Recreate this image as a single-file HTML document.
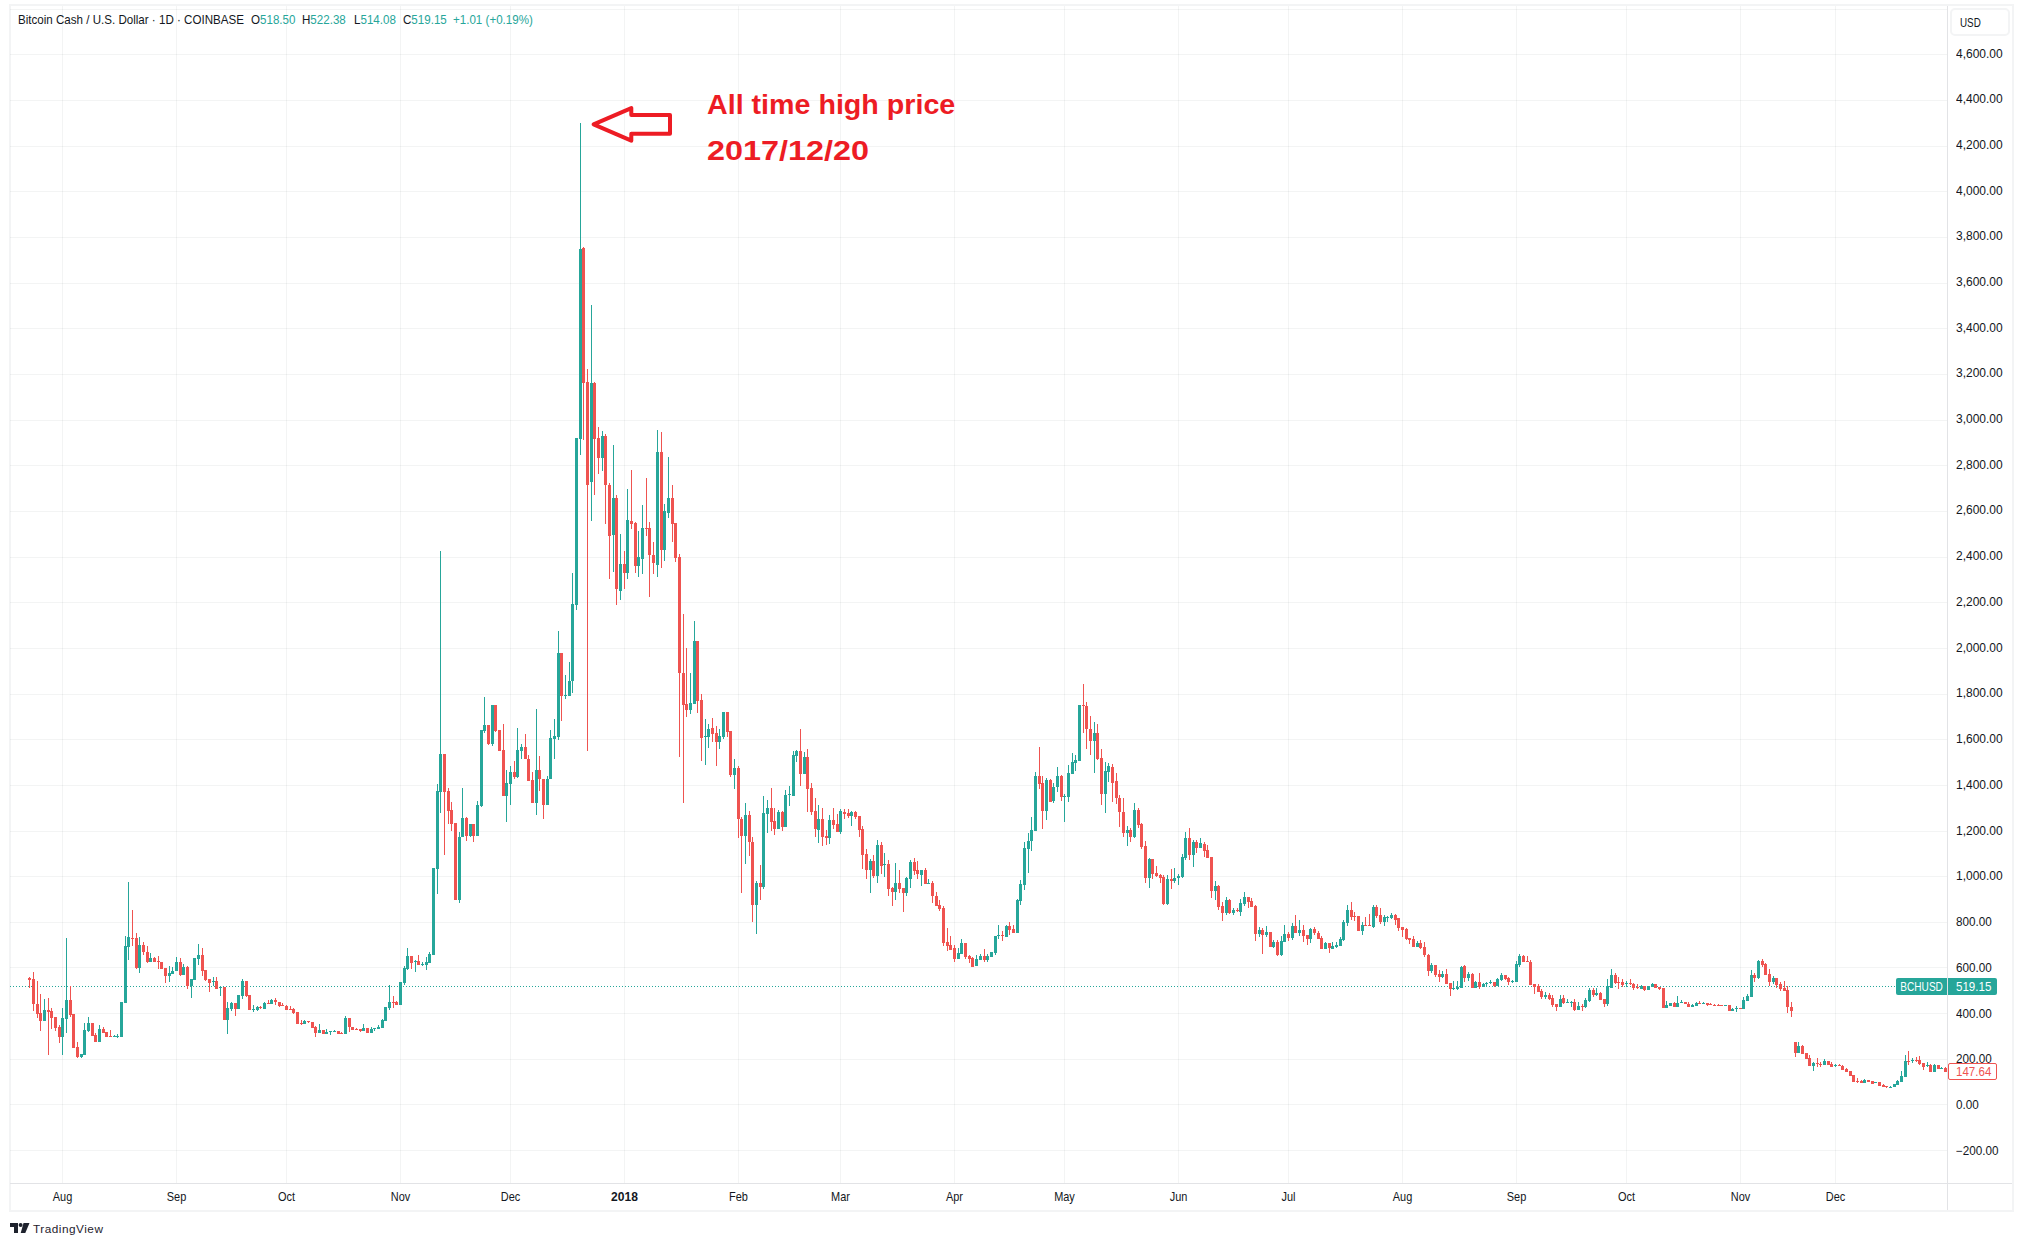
<!DOCTYPE html>
<html><head><meta charset="utf-8"><title>BCHUSD</title>
<style>
html,body{margin:0;padding:0;background:#fff;}
body{width:2023px;height:1246px;position:relative;overflow:hidden;font-family:"Liberation Sans",sans-serif;color:#131722;}
#frame{position:absolute;left:9px;top:4px;width:2001px;height:1204px;border:2px solid #f3f4f5;box-sizing:content-box;}
svg{position:absolute;left:0;top:0;}
.pl{position:absolute;left:1956px;transform-origin:0 0;transform:scaleX(0.988);font-size:11.85px;line-height:16px;height:16px;white-space:nowrap;}
.pl.c{transform:scaleX(1.012);}
.tl{position:absolute;top:1189px;width:61px;text-align:center;font-size:11.85px;line-height:16px;white-space:nowrap;transform:scaleX(0.925);}
.tl.b{font-weight:bold;transform:scaleX(1.02);}
#hdr span.h{position:absolute;top:11.6px;font-size:12.8px;line-height:16px;white-space:nowrap;transform-origin:0 0;transform:scaleX(0.905);}
#hdr .v{color:#26a69a;}
#usd{position:absolute;left:1950px;top:8px;width:60px;height:28px;border:2px solid #f3f4f5;border-radius:5px;box-sizing:border-box;}
#usd span{position:absolute;left:8.2px;top:4.6px;font-size:11.85px;line-height:16px;transform-origin:0 0;transform:scaleX(0.83);}
#ann{position:absolute;left:706.5px;top:0;color:#ed1c24;font-weight:bold;font-size:28px;line-height:32px;white-space:nowrap;}
#ann div{position:absolute;left:0;transform-origin:0 0;}
#sym{position:absolute;left:1896px;top:978px;width:51px;height:17px;background:#26a69a;color:#fff;border-radius:2px 0 0 2px;font-size:11.85px;line-height:19.6px;text-align:center;overflow:hidden;}
#last{position:absolute;left:1948px;top:978px;width:49px;height:17px;background:#26a69a;color:#fff;border-radius:0 2px 2px 0;font-size:11.85px;line-height:19.6px;box-sizing:border-box;padding-left:8px;overflow:hidden;}
#low{position:absolute;left:1948px;top:1063px;width:49px;height:17px;background:#fff;color:#ef5350;border:1px solid #ef5350;border-radius:2px;font-size:11.85px;line-height:17.6px;box-sizing:border-box;padding-left:7px;overflow:hidden;}
.n{display:inline-block;transform-origin:0 50%;transform:scaleX(0.975);}
#tv{position:absolute;left:33px;top:1220.7px;font-size:11.8px;line-height:16px;color:#1e222d;letter-spacing:0.5px;}
</style></head><body>
<div id="frame"></div>
<svg width="2023" height="1246" viewBox="0 0 2023 1246" shape-rendering="crispEdges">
<g fill="#1e2e2e" fill-opacity="0.055"><rect x="10" y="1150" width="1937" height="1"/><rect x="10" y="1104" width="1937" height="1"/><rect x="10" y="1059" width="1937" height="1"/><rect x="10" y="1013" width="1937" height="1"/><rect x="10" y="967" width="1937" height="1"/><rect x="10" y="922" width="1937" height="1"/><rect x="10" y="876" width="1937" height="1"/><rect x="10" y="831" width="1937" height="1"/><rect x="10" y="785" width="1937" height="1"/><rect x="10" y="739" width="1937" height="1"/><rect x="10" y="694" width="1937" height="1"/><rect x="10" y="648" width="1937" height="1"/><rect x="10" y="602" width="1937" height="1"/><rect x="10" y="557" width="1937" height="1"/><rect x="10" y="511" width="1937" height="1"/><rect x="10" y="465" width="1937" height="1"/><rect x="10" y="420" width="1937" height="1"/><rect x="10" y="374" width="1937" height="1"/><rect x="10" y="328" width="1937" height="1"/><rect x="10" y="283" width="1937" height="1"/><rect x="10" y="237" width="1937" height="1"/><rect x="10" y="191" width="1937" height="1"/><rect x="10" y="146" width="1937" height="1"/><rect x="10" y="100" width="1937" height="1"/><rect x="10" y="54" width="1937" height="1"/><rect x="10" y="9" width="1937" height="1"/><rect x="62" y="6" width="1" height="1177"/><rect x="176" y="6" width="1" height="1177"/><rect x="286" y="6" width="1" height="1177"/><rect x="400" y="6" width="1" height="1177"/><rect x="510" y="6" width="1" height="1177"/><rect x="624" y="6" width="1" height="1177"/><rect x="738" y="6" width="1" height="1177"/><rect x="840" y="6" width="1" height="1177"/><rect x="954" y="6" width="1" height="1177"/><rect x="1064" y="6" width="1" height="1177"/><rect x="1178" y="6" width="1" height="1177"/><rect x="1288" y="6" width="1" height="1177"/><rect x="1402" y="6" width="1" height="1177"/><rect x="1516" y="6" width="1" height="1177"/><rect x="1626" y="6" width="1" height="1177"/><rect x="1740" y="6" width="1" height="1177"/><rect x="1835" y="6" width="1" height="1177"/></g>
<rect x="10" y="1183" width="2002" height="1" fill="#e2e3e6"/>
<rect x="1947" y="6" width="1" height="1204" fill="#e2e3e6"/>
<line x1="10" y1="986.5" x2="1896" y2="986.5" stroke="#26a69a" stroke-width="1" stroke-dasharray="1 2"/>
<path fill="#26a69a" d="M44 999h1v22h-1zM43 1010h3v11h-3zM62 1008h1v47h-1zM61 1018h3v19h-3zM66 938h1v95h-1zM65 1000h3v19h-3zM81 1054h1v4h-1zM80 1054h3v3h-3zM84 1023h1v32h-1zM83 1030h3v25h-3zM88 1017h1v15h-1zM87 1023h3v8h-3zM99 1025h1v17h-1zM98 1029h3v13h-3zM114 1035h1v2h-1zM113 1036h3v1h-3zM117 1034h1v4h-1zM116 1036h3v1h-3zM121 1002h1v35h-1zM120 1002h3v35h-3zM125 936h1v67h-1zM124 946h3v57h-3zM128 882h1v78h-1zM127 937h3v10h-3zM139 937h1v36h-1zM138 945h3v23h-3zM150 953h1v9h-1zM149 958h3v4h-3zM169 966h1v16h-1zM168 973h3v3h-3zM172 967h1v7h-1zM171 971h3v3h-3zM176 957h1v14h-1zM175 962h3v9h-3zM183 964h1v11h-1zM182 967h3v8h-3zM191 979h1v19h-1zM190 979h3v7h-3zM194 958h1v22h-1zM193 958h3v22h-3zM198 944h1v21h-1zM197 955h3v4h-3zM213 977h1v9h-1zM212 981h3v1h-3zM220 986h1v10h-1zM219 987h3v1h-3zM227 1002h1v32h-1zM226 1008h3v12h-3zM231 1002h1v9h-1zM230 1003h3v6h-3zM238 995h1v14h-1zM237 995h3v14h-3zM242 979h1v20h-1zM241 981h3v15h-3zM253 1005h1v7h-1zM252 1009h3v1h-3zM257 1006h1v5h-1zM256 1007h3v3h-3zM264 1002h1v7h-1zM263 1003h3v6h-3zM271 999h1v5h-1zM270 1000h3v4h-3zM304 1020h1v4h-1zM303 1021h3v3h-3zM319 1024h1v9h-1zM318 1030h3v3h-3zM326 1029h1v5h-1zM325 1032h3v2h-3zM330 1031h1v4h-1zM329 1031h3v1h-3zM334 1030h1v2h-1zM333 1031h3v1h-3zM345 1016h1v18h-1zM344 1018h3v16h-3zM363 1024h1v7h-1zM362 1028h3v3h-3zM371 1027h1v6h-1zM370 1029h3v4h-3zM374 1028h1v3h-1zM373 1028h3v1h-3zM378 1025h1v4h-1zM377 1027h3v2h-3zM382 1019h1v9h-1zM381 1020h3v8h-3zM385 1007h1v14h-1zM384 1007h3v14h-3zM389 985h1v25h-1zM388 1002h3v6h-3zM400 982h1v23h-1zM399 982h3v23h-3zM404 966h1v19h-1zM403 968h3v15h-3zM407 948h1v22h-1zM406 956h3v13h-3zM415 960h1v12h-1zM414 961h3v1h-3zM422 962h1v4h-1zM421 964h3v1h-3zM426 957h1v13h-1zM425 962h3v3h-3zM429 952h1v11h-1zM428 954h3v9h-3zM433 868h1v87h-1zM432 868h3v87h-3zM437 784h1v110h-1zM436 791h3v78h-3zM440 551h1v262h-1zM439 754h3v38h-3zM459 832h1v71h-1zM458 837h3v63h-3zM462 788h1v49h-1zM461 818h3v19h-3zM470 824h1v13h-1zM469 824h3v12h-3zM477 801h1v35h-1zM476 805h3v31h-3zM481 730h1v77h-1zM480 730h3v76h-3zM484 697h1v36h-1zM483 725h3v6h-3zM492 705h1v41h-1zM491 705h3v39h-3zM506 770h1v52h-1zM505 783h3v13h-3zM510 766h1v39h-1zM509 772h3v12h-3zM517 728h1v50h-1zM516 750h3v27h-3zM521 744h1v15h-1zM520 747h3v4h-3zM536 709h1v106h-1zM535 770h3v33h-3zM547 776h1v29h-1zM546 779h3v26h-3zM550 730h1v49h-1zM549 738h3v41h-3zM554 719h1v40h-1zM553 736h3v3h-3zM558 631h1v109h-1zM557 653h3v84h-3zM565 675h1v24h-1zM564 695h3v1h-3zM569 662h1v34h-1zM568 681h3v15h-3zM572 573h1v120h-1zM571 604h3v77h-3zM576 438h1v172h-1zM575 438h3v167h-3zM580 123h1v332h-1zM579 249h3v190h-3zM591 305h1v216h-1zM590 383h3v99h-3zM602 431h1v40h-1zM601 436h3v22h-3zM613 445h1v127h-1zM612 498h3v37h-3zM620 534h1v66h-1zM619 564h3v27h-3zM627 489h1v90h-1zM626 520h3v53h-3zM638 531h1v46h-1zM637 557h3v9h-3zM642 505h1v69h-1zM641 528h3v31h-3zM657 430h1v147h-1zM656 452h3v113h-3zM664 504h1v57h-1zM663 511h3v39h-3zM668 457h1v61h-1zM667 498h3v15h-3zM690 673h1v41h-1zM689 703h3v7h-3zM694 621h1v83h-1zM693 641h3v63h-3zM705 719h1v46h-1zM704 736h3v1h-3zM708 724h1v24h-1zM707 729h3v8h-3zM719 729h1v20h-1zM718 736h3v6h-3zM723 712h1v27h-1zM722 712h3v25h-3zM734 759h1v30h-1zM733 768h3v7h-3zM745 803h1v61h-1zM744 815h3v21h-3zM756 881h1v53h-1zM755 883h3v22h-3zM763 796h1v93h-1zM762 813h3v74h-3zM767 800h1v33h-1zM766 808h3v6h-3zM778 810h1v19h-1zM777 812h3v17h-3zM785 790h1v37h-1zM784 795h3v32h-3zM789 786h1v20h-1zM788 794h3v1h-3zM793 751h1v45h-1zM792 755h3v41h-3zM796 750h1v12h-1zM795 751h3v5h-3zM804 752h1v22h-1zM803 757h3v17h-3zM818 805h1v38h-1zM817 819h3v11h-3zM829 815h1v29h-1zM828 820h3v18h-3zM840 809h1v25h-1zM839 811h3v21h-3zM851 811h1v15h-1zM850 812h3v4h-3zM870 859h1v34h-1zM869 861h3v9h-3zM877 840h1v43h-1zM876 845h3v31h-3zM884 853h1v24h-1zM883 864h3v1h-3zM895 863h1v37h-1zM894 883h3v9h-3zM906 877h1v19h-1zM905 878h3v15h-3zM910 860h1v28h-1zM909 862h3v17h-3zM921 870h1v16h-1zM920 870h3v5h-3zM928 879h1v5h-1zM927 883h3v1h-3zM958 948h1v11h-1zM957 953h3v6h-3zM961 939h1v15h-1zM960 943h3v11h-3zM976 955h1v11h-1zM975 959h3v7h-3zM980 954h1v6h-1zM979 956h3v4h-3zM987 954h1v8h-1zM986 956h3v4h-3zM991 952h1v5h-1zM990 952h3v5h-3zM995 936h1v19h-1zM994 936h3v17h-3zM998 925h1v14h-1zM997 935h3v1h-3zM1006 925h1v12h-1zM1005 926h3v11h-3zM1017 899h1v34h-1zM1016 900h3v33h-3zM1020 880h1v25h-1zM1019 884h3v17h-3zM1024 842h1v48h-1zM1023 848h3v37h-3zM1028 833h1v40h-1zM1027 841h3v8h-3zM1031 817h1v34h-1zM1030 830h3v11h-3zM1035 772h1v59h-1zM1034 776h3v55h-3zM1046 778h1v42h-1zM1045 780h3v31h-3zM1053 783h1v20h-1zM1052 787h3v14h-3zM1057 767h1v25h-1zM1056 776h3v11h-3zM1064 794h1v28h-1zM1063 796h3v1h-3zM1068 765h1v37h-1zM1067 773h3v24h-3zM1072 753h1v21h-1zM1071 762h3v12h-3zM1075 755h1v16h-1zM1074 760h3v3h-3zM1079 705h1v56h-1zM1078 705h3v56h-3zM1094 722h1v51h-1zM1093 733h3v8h-3zM1105 762h1v51h-1zM1104 771h3v23h-3zM1108 763h1v19h-1zM1107 766h3v6h-3zM1127 826h1v20h-1zM1126 830h3v3h-3zM1134 803h1v35h-1zM1133 810h3v27h-3zM1149 858h1v30h-1zM1148 859h3v19h-3zM1167 875h1v30h-1zM1166 879h3v25h-3zM1174 868h1v15h-1zM1173 878h3v3h-3zM1178 874h1v11h-1zM1177 876h3v2h-3zM1182 854h1v24h-1zM1181 857h3v20h-3zM1185 832h1v28h-1zM1184 838h3v20h-3zM1193 840h1v27h-1zM1192 842h3v13h-3zM1200 838h1v10h-1zM1199 843h3v5h-3zM1215 881h1v19h-1zM1214 886h3v5h-3zM1226 897h1v18h-1zM1225 900h3v13h-3zM1233 908h1v7h-1zM1232 910h3v3h-3zM1240 899h1v17h-1zM1239 903h3v9h-3zM1244 892h1v14h-1zM1243 897h3v7h-3zM1259 927h1v10h-1zM1258 930h3v4h-3zM1266 926h1v11h-1zM1265 932h3v3h-3zM1273 940h1v8h-1zM1272 942h3v5h-3zM1281 936h1v20h-1zM1280 941h3v14h-3zM1284 925h1v17h-1zM1283 934h3v8h-3zM1292 923h1v17h-1zM1291 926h3v12h-3zM1299 920h1v16h-1zM1298 930h3v3h-3zM1310 928h1v15h-1zM1309 929h3v10h-3zM1325 942h1v7h-1zM1324 943h3v6h-3zM1332 942h1v7h-1zM1331 946h3v3h-3zM1336 942h1v6h-1zM1335 945h3v2h-3zM1340 937h1v9h-1zM1339 939h3v7h-3zM1343 920h1v21h-1zM1342 922h3v18h-3zM1347 905h1v21h-1zM1346 910h3v13h-3zM1362 922h1v13h-1zM1361 925h3v6h-3zM1373 905h1v23h-1zM1372 907h3v20h-3zM1384 915h1v11h-1zM1383 917h3v5h-3zM1387 916h1v6h-1zM1386 917h3v1h-3zM1391 913h1v6h-1zM1390 915h3v3h-3zM1417 941h1v6h-1zM1416 943h3v4h-3zM1431 963h1v10h-1zM1430 965h3v6h-3zM1442 971h1v7h-1zM1441 974h3v3h-3zM1453 981h1v9h-1zM1452 988h3v1h-3zM1457 981h1v9h-1zM1456 987h3v2h-3zM1461 966h1v22h-1zM1460 967h3v21h-3zM1468 972h1v9h-1zM1467 974h3v4h-3zM1475 981h1v7h-1zM1474 982h3v6h-3zM1483 983h1v4h-1zM1482 984h3v3h-3zM1486 982h1v5h-1zM1485 983h3v1h-3zM1490 980h1v4h-1zM1489 982h3v1h-3zM1497 978h1v8h-1zM1496 979h3v7h-3zM1501 973h1v8h-1zM1500 975h3v5h-3zM1512 980h1v3h-1zM1511 981h3v1h-3zM1516 961h1v21h-1zM1515 964h3v18h-3zM1519 954h1v13h-1zM1518 956h3v9h-3zM1545 992h1v7h-1zM1544 995h3v2h-3zM1560 995h1v12h-1zM1559 999h3v8h-3zM1567 999h1v4h-1zM1566 1002h3v1h-3zM1571 1001h1v6h-1zM1570 1002h3v1h-3zM1578 1002h1v8h-1zM1577 1006h3v4h-3zM1585 998h1v10h-1zM1584 1000h3v7h-3zM1589 988h1v14h-1zM1588 990h3v11h-3zM1596 988h1v8h-1zM1595 993h3v2h-3zM1607 979h1v27h-1zM1606 986h3v18h-3zM1611 969h1v19h-1zM1610 975h3v13h-3zM1626 981h1v6h-1zM1625 983h3v1h-3zM1641 985h1v4h-1zM1640 986h3v3h-3zM1648 986h1v4h-1zM1647 986h3v4h-3zM1652 983h1v4h-1zM1651 984h3v3h-3zM1666 1001h1v7h-1zM1665 1005h3v3h-3zM1670 1003h1v3h-1zM1669 1003h3v3h-3zM1677 996h1v11h-1zM1676 1003h3v4h-3zM1681 1000h1v3h-1zM1680 1002h3v1h-3zM1692 1004h1v3h-1zM1691 1005h3v2h-3zM1696 1002h1v4h-1zM1695 1003h3v3h-3zM1703 1002h1v2h-1zM1702 1003h3v1h-3zM1725 1005h1v1h-1zM1724 1005h3v1h-3zM1732 1008h1v3h-1zM1731 1009h3v2h-3zM1736 1006h1v6h-1zM1735 1008h3v1h-3zM1743 997h1v12h-1zM1742 1000h3v9h-3zM1747 994h1v7h-1zM1746 996h3v5h-3zM1751 970h1v27h-1zM1750 975h3v22h-3zM1758 960h1v19h-1zM1757 961h3v17h-3zM1773 976h1v8h-1zM1772 978h3v4h-3zM1798 1042h1v11h-1zM1797 1046h3v7h-3zM1813 1062h1v9h-1zM1812 1063h3v3h-3zM1824 1059h1v6h-1zM1823 1061h3v4h-3zM1835 1064h1v3h-1zM1834 1065h3v1h-3zM1864 1079h1v4h-1zM1863 1080h3v3h-3zM1875 1082h1v1h-1zM1874 1082h3v1h-3zM1890 1086h1v2h-1zM1889 1087h3v1h-3zM1894 1084h1v3h-1zM1893 1084h3v3h-3zM1897 1080h1v5h-1zM1896 1081h3v4h-3zM1901 1071h1v11h-1zM1900 1076h3v6h-3zM1905 1055h1v22h-1zM1904 1061h3v16h-3zM1912 1058h1v5h-1zM1911 1060h3v1h-3zM1927 1062h1v5h-1zM1926 1065h3v1h-3zM1934 1064h1v8h-1zM1933 1065h3v7h-3zM1941 1067h1v2h-1zM1940 1068h3v1h-3z"/>
<path fill="#ef5350" d="M29 977h1v11h-1zM28 978h3v2h-3zM33 972h1v39h-1zM32 979h3v25h-3zM37 981h1v37h-1zM36 1004h3v10h-3zM40 994h1v37h-1zM39 1013h3v8h-3zM48 998h1v57h-1zM47 1010h3v2h-3zM51 1008h1v21h-1zM50 1011h3v7h-3zM55 1017h1v14h-1zM54 1017h3v11h-3zM59 1025h1v18h-1zM58 1027h3v10h-3zM70 986h1v31h-1zM69 1000h3v15h-3zM73 1014h1v34h-1zM72 1014h3v34h-3zM77 1042h1v16h-1zM76 1047h3v10h-3zM92 1023h1v13h-1zM91 1023h3v13h-3zM95 1033h1v9h-1zM94 1035h3v7h-3zM103 1027h1v6h-1zM102 1029h3v4h-3zM106 1032h1v5h-1zM105 1032h3v5h-3zM110 1030h1v7h-1zM109 1036h3v1h-3zM132 910h1v36h-1zM131 938h3v1h-3zM136 933h1v36h-1zM135 938h3v30h-3zM143 942h1v13h-1zM142 945h3v7h-3zM147 946h1v17h-1zM146 952h3v10h-3zM154 957h1v5h-1zM153 958h3v4h-3zM158 956h1v13h-1zM157 961h3v1h-3zM161 962h1v7h-1zM160 962h3v7h-3zM165 968h1v15h-1zM164 968h3v8h-3zM180 958h1v18h-1zM179 962h3v13h-3zM187 966h1v23h-1zM186 967h3v19h-3zM202 948h1v28h-1zM201 955h3v16h-3zM205 970h1v11h-1zM204 970h3v10h-3zM209 979h1v13h-1zM208 979h3v4h-3zM216 977h1v12h-1zM215 981h3v8h-3zM224 987h1v33h-1zM223 987h3v33h-3zM235 1003h1v13h-1zM234 1003h3v6h-3zM246 981h1v16h-1zM245 981h3v15h-3zM249 995h1v15h-1zM248 995h3v15h-3zM260 1006h1v3h-1zM259 1007h3v1h-3zM268 1000h1v4h-1zM267 1003h3v1h-3zM275 998h1v7h-1zM274 1000h3v2h-3zM279 1002h1v5h-1zM278 1002h3v4h-3zM282 1003h1v3h-1zM281 1005h3v1h-3zM286 1005h1v5h-1zM285 1006h3v4h-3zM290 1006h1v4h-1zM289 1009h3v1h-3zM293 1008h1v6h-1zM292 1009h3v4h-3zM297 1012h1v12h-1zM296 1012h3v12h-3zM301 1020h1v5h-1zM300 1023h3v1h-3zM308 1021h1v2h-1zM307 1021h3v1h-3zM312 1022h1v6h-1zM311 1022h3v6h-3zM315 1026h1v11h-1zM314 1027h3v6h-3zM323 1030h1v4h-1zM322 1030h3v4h-3zM338 1031h1v3h-1zM337 1031h3v3h-3zM341 1032h1v2h-1zM340 1033h3v1h-3zM349 1018h1v14h-1zM348 1018h3v9h-3zM352 1027h1v3h-1zM351 1027h3v3h-3zM356 1028h1v2h-1zM355 1029h3v1h-3zM360 1029h1v3h-1zM359 1029h3v2h-3zM367 1028h1v5h-1zM366 1028h3v5h-3zM393 996h1v12h-1zM392 1002h3v1h-3zM396 1001h1v4h-1zM395 1002h3v3h-3zM411 956h1v13h-1zM410 956h3v7h-3zM418 955h1v10h-1zM417 961h3v4h-3zM444 754h1v101h-1zM443 754h3v38h-3zM448 788h1v36h-1zM447 791h3v20h-3zM451 802h1v29h-1zM450 810h3v14h-3zM455 823h1v77h-1zM454 823h3v77h-3zM466 817h1v24h-1zM465 818h3v18h-3zM473 824h1v18h-1zM472 824h3v12h-3zM488 725h1v20h-1zM487 725h3v19h-3zM495 705h1v27h-1zM494 705h3v26h-3zM499 730h1v21h-1zM498 730h3v21h-3zM503 724h1v72h-1zM502 750h3v46h-3zM514 761h1v18h-1zM513 772h3v5h-3zM525 734h1v25h-1zM524 747h3v12h-3zM528 755h1v26h-1zM527 759h3v22h-3zM532 772h1v31h-1zM531 780h3v23h-3zM539 756h1v35h-1zM538 770h3v9h-3zM543 779h1v40h-1zM542 779h3v26h-3zM561 653h1v68h-1zM560 653h3v43h-3zM583 247h1v193h-1zM582 248h3v135h-3zM587 369h1v382h-1zM586 382h3v103h-3zM594 382h1v113h-1zM593 383h3v56h-3zM598 427h1v47h-1zM597 438h3v20h-3zM605 434h1v90h-1zM604 436h3v49h-3zM609 483h1v96h-1zM608 485h3v51h-3zM616 495h1v110h-1zM615 498h3v91h-3zM624 551h1v38h-1zM623 564h3v9h-3zM631 470h1v59h-1zM630 521h3v3h-3zM635 522h1v51h-1zM634 523h3v43h-3zM646 478h1v58h-1zM645 528h3v1h-3zM649 522h1v75h-1zM648 528h3v27h-3zM653 542h1v32h-1zM652 555h3v8h-3zM661 432h1v136h-1zM660 452h3v98h-3zM672 485h1v57h-1zM671 498h3v26h-3zM675 523h1v39h-1zM674 523h3v35h-3zM679 554h1v203h-1zM678 557h3v116h-3zM683 614h1v189h-1zM682 673h3v32h-3zM686 648h1v69h-1zM685 704h3v6h-3zM697 641h1v72h-1zM696 641h3v60h-3zM701 694h1v67h-1zM700 700h3v38h-3zM712 718h1v24h-1zM711 728h3v6h-3zM716 726h1v40h-1zM715 733h3v9h-3zM727 712h1v25h-1zM726 712h3v20h-3zM730 731h1v46h-1zM729 731h3v44h-3zM738 766h1v72h-1zM737 768h3v51h-3zM741 817h1v76h-1zM740 819h3v17h-3zM749 811h1v45h-1zM748 815h3v27h-3zM752 837h1v85h-1zM751 842h3v63h-3zM760 865h1v35h-1zM759 883h3v4h-3zM771 788h1v43h-1zM770 808h3v14h-3zM774 808h1v27h-1zM773 821h3v8h-3zM782 811h1v20h-1zM781 812h3v15h-3zM800 729h1v57h-1zM799 751h3v23h-3zM807 749h1v63h-1zM806 757h3v32h-3zM811 783h1v32h-1zM810 788h3v24h-3zM815 798h1v39h-1zM814 811h3v18h-3zM822 808h1v38h-1zM821 819h3v18h-3zM826 830h1v15h-1zM825 836h3v2h-3zM833 808h1v21h-1zM832 820h3v5h-3zM837 814h1v18h-1zM836 824h3v8h-3zM844 809h1v10h-1zM843 812h3v2h-3zM848 809h1v9h-1zM847 813h3v3h-3zM855 811h1v8h-1zM854 812h3v5h-3zM859 816h1v21h-1zM858 816h3v14h-3zM862 826h1v43h-1zM861 829h3v26h-3zM866 849h1v30h-1zM865 854h3v16h-3zM873 855h1v23h-1zM872 861h3v15h-3zM881 842h1v32h-1zM880 845h3v21h-3zM888 860h1v36h-1zM887 864h3v25h-3zM892 887h1v19h-1zM891 888h3v4h-3zM899 870h1v23h-1zM898 883h3v6h-3zM903 888h1v24h-1zM902 888h3v5h-3zM914 858h1v17h-1zM913 862h3v9h-3zM917 861h1v18h-1zM916 870h3v4h-3zM925 868h1v16h-1zM924 870h3v14h-3zM932 881h1v22h-1zM931 883h3v13h-3zM936 892h1v14h-1zM935 896h3v10h-3zM939 900h1v11h-1zM938 905h3v4h-3zM943 906h1v40h-1zM942 908h3v35h-3zM947 928h1v23h-1zM946 942h3v4h-3zM950 936h1v14h-1zM949 945h3v5h-3zM954 945h1v17h-1zM953 948h3v11h-3zM965 943h1v16h-1zM964 943h3v14h-3zM969 955h1v8h-1zM968 956h3v3h-3zM972 957h1v10h-1zM971 958h3v9h-3zM984 949h1v13h-1zM983 956h3v4h-3zM1002 931h1v10h-1zM1001 935h3v1h-3zM1009 922h1v13h-1zM1008 926h3v4h-3zM1013 925h1v8h-1zM1012 929h3v4h-3zM1039 747h1v42h-1zM1038 776h3v8h-3zM1042 776h1v53h-1zM1041 783h3v28h-3zM1050 779h1v23h-1zM1049 780h3v22h-3zM1061 775h1v26h-1zM1060 776h3v21h-3zM1083 684h1v49h-1zM1082 705h3v1h-3zM1086 702h1v47h-1zM1085 706h3v23h-3zM1090 716h1v39h-1zM1089 729h3v12h-3zM1097 724h1v36h-1zM1096 733h3v26h-3zM1101 749h1v56h-1zM1100 758h3v36h-3zM1112 764h1v38h-1zM1111 767h3v16h-3zM1116 773h1v31h-1zM1115 781h3v17h-3zM1119 795h1v32h-1zM1118 798h3v14h-3zM1123 798h1v39h-1zM1122 812h3v21h-3zM1130 828h1v14h-1zM1129 830h3v7h-3zM1138 808h1v20h-1zM1137 810h3v15h-3zM1141 823h1v26h-1zM1140 824h3v23h-3zM1145 841h1v42h-1zM1144 846h3v32h-3zM1152 859h1v20h-1zM1151 859h3v15h-3zM1156 866h1v11h-1zM1155 873h3v3h-3zM1160 874h1v9h-1zM1159 875h3v3h-3zM1163 875h1v30h-1zM1162 877h3v27h-3zM1171 869h1v20h-1zM1170 879h3v2h-3zM1189 828h1v32h-1zM1188 838h3v17h-3zM1196 840h1v13h-1zM1195 842h3v6h-3zM1204 842h1v15h-1zM1203 844h3v7h-3zM1207 845h1v13h-1zM1206 850h3v8h-3zM1211 857h1v41h-1zM1210 857h3v34h-3zM1218 885h1v25h-1zM1217 886h3v21h-3zM1222 902h1v19h-1zM1221 906h3v7h-3zM1229 899h1v15h-1zM1228 900h3v13h-3zM1237 908h1v4h-1zM1236 910h3v1h-3zM1248 897h1v11h-1zM1247 897h3v5h-3zM1251 898h1v9h-1zM1250 901h3v6h-3zM1255 905h1v36h-1zM1254 906h3v28h-3zM1262 928h1v26h-1zM1261 930h3v5h-3zM1270 932h1v15h-1zM1269 932h3v15h-3zM1277 940h1v16h-1zM1276 942h3v13h-3zM1288 932h1v9h-1zM1287 934h3v4h-3zM1295 915h1v18h-1zM1294 926h3v7h-3zM1303 925h1v17h-1zM1302 930h3v6h-3zM1307 935h1v10h-1zM1306 935h3v4h-3zM1314 927h1v8h-1zM1313 929h3v4h-3zM1318 931h1v8h-1zM1317 933h3v6h-3zM1321 936h1v13h-1zM1320 938h3v11h-3zM1329 943h1v10h-1zM1328 943h3v5h-3zM1351 902h1v18h-1zM1350 910h3v7h-3zM1354 912h1v9h-1zM1353 916h3v1h-3zM1358 916h1v15h-1zM1357 916h3v15h-3zM1365 917h1v9h-1zM1364 925h3v1h-3zM1369 914h1v12h-1zM1368 925h3v1h-3zM1376 905h1v13h-1zM1375 907h3v9h-3zM1380 908h1v16h-1zM1379 915h3v7h-3zM1395 914h1v11h-1zM1394 915h3v5h-3zM1398 918h1v13h-1zM1397 918h3v10h-3zM1402 927h1v10h-1zM1401 927h3v3h-3zM1406 928h1v12h-1zM1405 929h3v10h-3zM1409 938h1v6h-1zM1408 938h3v2h-3zM1413 936h1v11h-1zM1412 939h3v8h-3zM1420 940h1v9h-1zM1419 943h3v5h-3zM1424 942h1v15h-1zM1423 947h3v8h-3zM1428 954h1v22h-1zM1427 955h3v16h-3zM1435 965h1v12h-1zM1434 965h3v10h-3zM1439 970h1v12h-1zM1438 974h3v3h-3zM1446 969h1v15h-1zM1445 974h3v10h-3zM1450 983h1v13h-1zM1449 983h3v6h-3zM1464 965h1v17h-1zM1463 966h3v12h-3zM1472 973h1v15h-1zM1471 974h3v14h-3zM1479 973h1v16h-1zM1478 982h3v5h-3zM1494 982h1v5h-1zM1493 982h3v4h-3zM1505 975h1v5h-1zM1504 975h3v4h-3zM1508 977h1v8h-1zM1507 978h3v4h-3zM1523 955h1v7h-1zM1522 956h3v6h-3zM1527 956h1v6h-1zM1526 961h3v1h-3zM1530 960h1v25h-1zM1529 962h3v23h-3zM1534 984h1v10h-1zM1533 984h3v3h-3zM1538 984h1v8h-1zM1537 986h3v6h-3zM1541 989h1v10h-1zM1540 991h3v6h-3zM1549 993h1v7h-1zM1548 995h3v4h-3zM1552 995h1v12h-1zM1551 998h3v7h-3zM1556 1004h1v7h-1zM1555 1004h3v3h-3zM1563 995h1v9h-1zM1562 998h3v5h-3zM1574 999h1v12h-1zM1573 1002h3v8h-3zM1582 1004h1v7h-1zM1581 1006h3v1h-3zM1593 988h1v9h-1zM1592 990h3v5h-3zM1600 992h1v8h-1zM1599 993h3v7h-3zM1604 999h1v8h-1zM1603 999h3v5h-3zM1615 973h1v11h-1zM1614 975h3v8h-3zM1618 977h1v12h-1zM1617 982h3v1h-3zM1622 979h1v8h-1zM1621 982h3v3h-3zM1630 979h1v6h-1zM1629 983h3v1h-3zM1633 983h1v7h-1zM1632 984h3v4h-3zM1637 984h1v5h-1zM1636 987h3v1h-3zM1644 986h1v5h-1zM1643 986h3v4h-3zM1655 984h1v4h-1zM1654 984h3v4h-3zM1659 987h1v3h-1zM1658 987h3v2h-3zM1663 988h1v20h-1zM1662 988h3v20h-3zM1674 1002h1v5h-1zM1673 1003h3v4h-3zM1685 1002h1v2h-1zM1684 1002h3v2h-3zM1688 1002h1v5h-1zM1687 1004h3v3h-3zM1699 1001h1v3h-1zM1698 1003h3v1h-3zM1707 1003h1v3h-1zM1706 1003h3v2h-3zM1710 1003h1v2h-1zM1709 1004h3v1h-3zM1714 1004h1v2h-1zM1713 1005h3v1h-3zM1718 1004h1v2h-1zM1717 1005h3v1h-3zM1721 1005h1v1h-1zM1720 1005h3v1h-3zM1729 1005h1v6h-1zM1728 1005h3v6h-3zM1740 1008h1v1h-1zM1739 1008h3v1h-3zM1754 973h1v9h-1zM1753 975h3v3h-3zM1762 959h1v8h-1zM1761 961h3v4h-3zM1765 963h1v12h-1zM1764 964h3v11h-3zM1769 969h1v17h-1zM1768 974h3v8h-3zM1776 978h1v10h-1zM1775 978h3v7h-3zM1780 982h1v9h-1zM1779 984h3v5h-3zM1784 981h1v10h-1zM1783 988h3v3h-3zM1787 986h1v27h-1zM1786 990h3v17h-3zM1791 1002h1v15h-1zM1790 1007h3v4h-3zM1795 1042h1v15h-1zM1794 1042h3v11h-3zM1802 1045h1v9h-1zM1801 1046h3v8h-3zM1806 1053h1v6h-1zM1805 1053h3v6h-3zM1809 1055h1v11h-1zM1808 1058h3v8h-3zM1817 1058h1v9h-1zM1816 1063h3v1h-3zM1820 1062h1v5h-1zM1819 1064h3v1h-3zM1828 1061h1v4h-1zM1827 1061h3v4h-3zM1831 1062h1v5h-1zM1830 1064h3v3h-3zM1839 1064h1v2h-1zM1838 1065h3v1h-3zM1842 1065h1v5h-1zM1841 1066h3v4h-3zM1846 1068h1v4h-1zM1845 1069h3v3h-3zM1850 1071h1v5h-1zM1849 1071h3v5h-3zM1853 1075h1v7h-1zM1852 1075h3v7h-3zM1857 1078h1v5h-1zM1856 1081h3v1h-3zM1861 1080h1v3h-1zM1860 1081h3v2h-3zM1868 1080h1v2h-1zM1867 1080h3v2h-3zM1872 1081h1v3h-1zM1871 1081h3v3h-3zM1879 1082h1v4h-1zM1878 1082h3v4h-3zM1883 1084h1v3h-1zM1882 1085h3v2h-3zM1886 1086h1v2h-1zM1885 1086h3v1h-3zM1908 1051h1v14h-1zM1907 1061h3v1h-3zM1916 1057h1v5h-1zM1915 1060h3v1h-3zM1919 1056h1v9h-1zM1918 1060h3v4h-3zM1923 1063h1v7h-1zM1922 1063h3v4h-3zM1930 1064h1v8h-1zM1929 1065h3v7h-3zM1938 1065h1v4h-1zM1937 1065h3v4h-3zM1945 1067h1v5h-1zM1944 1068h3v4h-3z"/>
</svg>
<svg width="2023" height="1246" viewBox="0 0 2023 1246">
<path d="M593.6 124.4 L631.3 108.1 L631.3 114.9 L670 114.9 L670 133.7 L631.3 133.7 L631.3 140.7 Z" fill="none" stroke="#ed1c24" stroke-width="4" stroke-linejoin="round"/>
<g fill="#1e222d" transform="translate(10,1223)"><path d="M0 0h8v10h-4v-6h-4z"/><circle cx="10.6" cy="2" r="2"/><path d="M13.5 0h6l-4.2 10h-4.6z"/></g>
</svg>
<div id="hdr"><span class="h" style="left:17.9px">Bitcoin Cash / U.S. Dollar · 1D · COINBASE</span><span class="h" style="left:251.4px">O<span class="v">518.50</span></span><span class="h" style="left:302.2px">H<span class="v">522.38</span></span><span class="h" style="left:353.6px">L<span class="v">514.08</span></span><span class="h" style="left:402.8px">C<span class="v">519.15</span></span><span class="h v" style="left:453.2px">+1.01 (+0.19%)</span></div>
<div id="usd"><span>USD</span></div>
<div id="ann"><div style="top:89.3px;transform:scaleX(1.023)">All time high price</div><div style="top:135px;transform:scaleX(1.156)">2017/12/20</div></div>
<div class="pl" style="top:1142.6px">−200.00</div>
<div class="pl" style="top:1097.1px">0.00</div>
<div class="pl" style="top:1050.9px">200.00</div>
<div class="pl" style="top:1006.1px">400.00</div>
<div class="pl" style="top:960.0px">600.00</div>
<div class="pl" style="top:914.0px">800.00</div>
<div class="pl c" style="top:868.0px">1,000.00</div>
<div class="pl c" style="top:822.5px">1,200.00</div>
<div class="pl c" style="top:776.5px">1,400.00</div>
<div class="pl c" style="top:731.0px">1,600.00</div>
<div class="pl c" style="top:685.3px">1,800.00</div>
<div class="pl c" style="top:639.7px">2,000.00</div>
<div class="pl c" style="top:593.9px">2,200.00</div>
<div class="pl c" style="top:547.9px">2,400.00</div>
<div class="pl c" style="top:502.0px">2,600.00</div>
<div class="pl c" style="top:456.8px">2,800.00</div>
<div class="pl c" style="top:411.1px">3,000.00</div>
<div class="pl c" style="top:365.4px">3,200.00</div>
<div class="pl c" style="top:319.6px">3,400.00</div>
<div class="pl c" style="top:273.9px">3,600.00</div>
<div class="pl c" style="top:228.2px">3,800.00</div>
<div class="pl c" style="top:182.5px">4,000.00</div>
<div class="pl c" style="top:136.8px">4,200.00</div>
<div class="pl c" style="top:91.0px">4,400.00</div>
<div class="pl c" style="top:46.0px">4,600.00</div>
<div class="tl" style="left:31.7px">Aug</div>
<div class="tl" style="left:145.7px">Sep</div>
<div class="tl" style="left:255.7px">Oct</div>
<div class="tl" style="left:369.7px">Nov</div>
<div class="tl" style="left:479.7px">Dec</div>
<div class="tl b" style="left:594.0px">2018</div>
<div class="tl" style="left:707.7px">Feb</div>
<div class="tl" style="left:809.7px">Mar</div>
<div class="tl" style="left:923.7px">Apr</div>
<div class="tl" style="left:1033.7px">May</div>
<div class="tl" style="left:1147.7px">Jun</div>
<div class="tl" style="left:1257.7px">Jul</div>
<div class="tl" style="left:1371.7px">Aug</div>
<div class="tl" style="left:1485.7px">Sep</div>
<div class="tl" style="left:1595.7px">Oct</div>
<div class="tl" style="left:1709.7px">Nov</div>
<div class="tl" style="left:1804.7px">Dec</div>
<div id="sym"><span style="display:inline-block;transform:translateX(0.6px) scaleX(0.85)">BCHUSD</span></div><div id="last"><span class="n">519.15</span></div><div id="low"><span class="n">147.64</span></div>
<div id="tv">TradingView</div>
</body></html>
